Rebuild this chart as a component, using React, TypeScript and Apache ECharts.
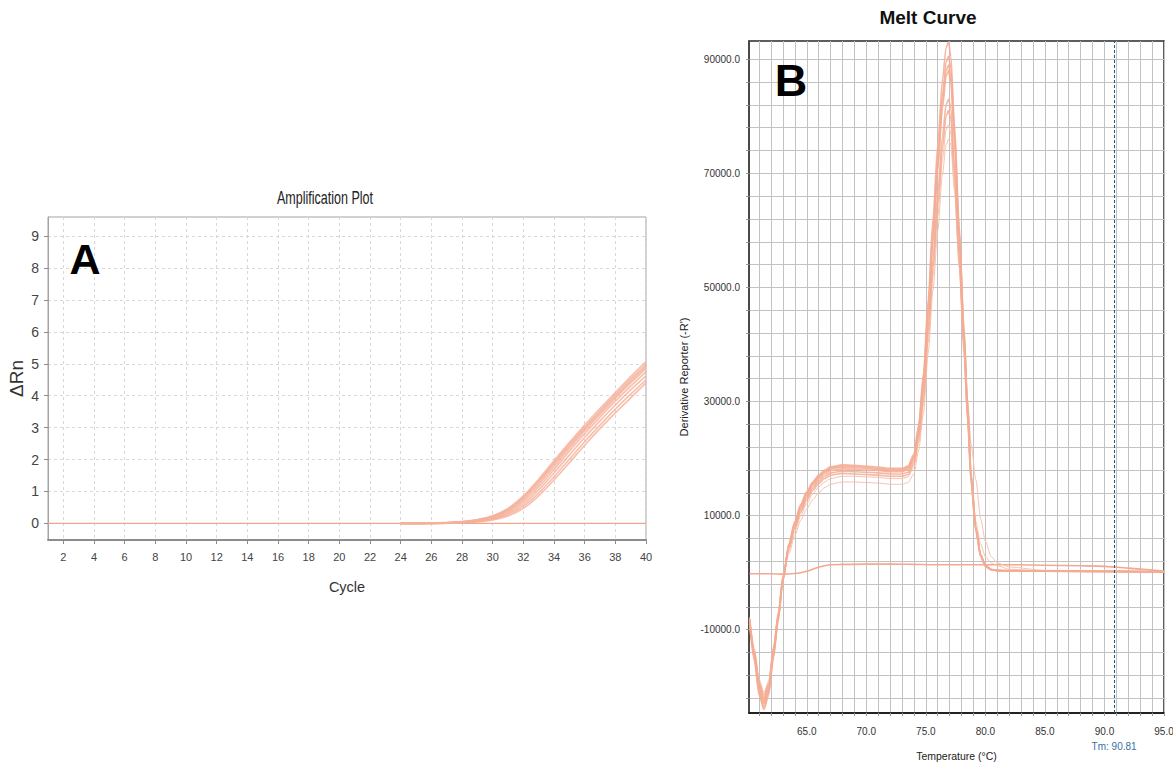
import React, { useEffect, useRef } from "react";
import * as echarts from "echarts";

// ---------- Panel A: Amplification plot ----------
const cyclesA = [1, 2, 3, 4, 5, 6, 7, 8, 9, 10, 11, 12, 13, 14, 15, 16, 17, 18, 19, 20, 21, 22, 23, 24, 25, 26, 27, 28, 29, 30, 31, 32, 33, 34, 35, 36, 37, 38, 39, 40];
const ntcAmp = [0, 0, 0, 0, 0, 0, 0, 0, 0, 0, 0, 0, 0, 0, 0, 0, 0, 0, 0, 0, 0, 0, 0, 0, 0, 0, 0, 0, 0, 0, 0, 0, 0, 0, 0, 0, 0, 0, 0, 0];
const ampCycles = [24, 25, 26, 27, 28, 29, 30, 31, 32, 33, 34, 35, 36, 37, 38, 39, 40];
const amp1 = [0, 0, 0.01, 0.03, 0.06, 0.12, 0.24, 0.47, 0.86, 1.38, 1.96, 2.53, 3.08, 3.6, 4.1, 4.6, 5.07];
const amp2 = [0, 0, 0.01, 0.02, 0.05, 0.11, 0.22, 0.44, 0.82, 1.33, 1.9, 2.47, 3.01, 3.53, 4.03, 4.52, 4.98];
const amp3 = [0, 0, 0.01, 0.02, 0.05, 0.1, 0.21, 0.42, 0.79, 1.29, 1.86, 2.42, 2.96, 3.48, 3.98, 4.46, 4.92];
const amp4 = [0, 0, 0, 0.02, 0.04, 0.09, 0.19, 0.39, 0.74, 1.22, 1.78, 2.35, 2.9, 3.42, 3.92, 4.4, 4.85];
const amp5 = [0, 0, 0, 0.02, 0.04, 0.08, 0.17, 0.35, 0.68, 1.14, 1.69, 2.26, 2.81, 3.33, 3.83, 4.3, 4.75];
const amp6 = [0, 0, 0, 0.01, 0.03, 0.07, 0.15, 0.31, 0.61, 1.05, 1.58, 2.14, 2.69, 3.21, 3.71, 4.18, 4.62];
const amp7 = [0, 0, 0, 0.01, 0.03, 0.06, 0.13, 0.27, 0.54, 0.95, 1.46, 2.01, 2.56, 3.08, 3.58, 4.05, 4.5];
const amp8 = [0, 0, 0, 0.01, 0.02, 0.05, 0.11, 0.23, 0.47, 0.86, 1.36, 1.9, 2.45, 2.97, 3.46, 3.93, 4.4];
const ampCurves = [amp1, amp2, amp3, amp4, amp5, amp6, amp7, amp8];
const ampXTicks = [2, 4, 6, 8, 10, 12, 14, 16, 18, 20, 22, 24, 26, 28, 30, 32, 34, 36, 38, 40];
const ampYTicks = [0, 1, 2, 3, 4, 5, 6, 7, 8, 9];

// ---------- Panel B: Melt curve ----------
const meltTemps = [60.2, 60.6, 61.0, 61.4, 61.8, 62.2, 62.6, 63.0, 63.5, 64.0, 64.5, 65.0, 65.5, 66.0, 66.5, 67.0, 68.0, 69.0, 70.0, 71.0, 72.0, 73.0, 73.5, 74.0, 74.4, 74.8, 75.2, 75.6, 76.0, 76.4, 76.7, 76.9, 77.1, 77.4, 77.8, 78.2, 78.5, 78.8, 79.2, 79.6, 80.0, 80.5, 81.0, 82.0, 85.0, 90.0, 95.0];
const melt1 = [-9000, -15500, -21500, -24000, -21500, -15000, -8500, -1500, 5000, 9000, 12000, 14200, 15900, 17100, 18000, 18600, 18900, 18800, 18700, 18500, 18300, 18300, 18700, 20800, 26000, 35000, 48000, 62000, 75000, 86500, 92000, 93000, 90500, 79000, 61000, 43000, 30000, 17500, 8000, 3200, 1300, 600, 400, 350, 300, 250, 150];
const melt2 = [-8800, -15000, -21000, -23500, -21000, -14600, -8200, -1300, 5000, 8800, 11800, 14000, 15700, 16900, 17800, 18400, 18700, 18600, 18500, 18300, 18100, 18100, 18500, 20500, 25500, 34000, 46500, 60500, 73000, 84000, 89500, 90500, 88500, 77500, 60000, 42500, 29500, 17000, 7800, 3100, 1200, 550, 380, 330, 280, 230, 140];
const melt3 = [-8500, -14600, -20500, -23000, -20700, -14300, -8000, -1200, 4800, 8600, 11600, 13800, 15500, 16700, 17600, 18200, 18500, 18400, 18300, 18100, 17900, 17900, 18300, 20200, 25000, 33500, 45500, 59000, 71500, 82500, 88000, 89000, 87000, 76500, 59500, 42000, 29000, 16800, 7700, 3000, 1200, 550, 380, 330, 280, 230, 140];
const melt4 = [-8300, -14200, -20000, -22500, -20300, -14000, -7800, -1000, 4700, 8400, 11300, 13500, 15200, 16400, 17300, 17900, 18200, 18100, 18000, 17900, 17700, 17700, 18100, 20000, 24800, 33000, 45000, 58000, 70500, 81500, 87000, 88000, 86000, 75500, 58500, 41500, 28500, 16500, 7600, 3000, 1150, 520, 360, 320, 270, 220, 130];
const melt5 = [-8200, -14000, -19600, -22000, -19900, -13700, -7600, -900, 4500, 8100, 11000, 13100, 14800, 16000, 16900, 17500, 17800, 17700, 17600, 17500, 17300, 17300, 17600, 19500, 24000, 31500, 43000, 55000, 66500, 76500, 82000, 83000, 81500, 71500, 56000, 40000, 27500, 16000, 7400, 2900, 1100, 500, 350, 310, 260, 210, 130];
const melt6 = [-8000, -13700, -19200, -21500, -19500, -13400, -7400, -800, 4300, 7800, 10600, 12700, 14400, 15600, 16500, 17100, 17400, 17300, 17200, 17100, 16900, 16900, 17200, 19000, 23500, 30500, 42000, 53500, 64500, 74500, 80000, 81000, 79500, 70000, 55000, 39500, 27000, 15800, 7300, 2900, 1100, 500, 350, 300, 260, 210, 120];
const melt7 = [-8600, -14600, -20400, -22800, -20600, -14300, -8000, -1200, 3800, 7200, 10000, 12100, 13800, 15000, 15900, 16500, 16900, 16900, 16800, 16700, 16500, 16500, 16800, 18500, 22800, 29500, 40500, 52000, 62500, 72500, 77500, 78500, 77000, 68000, 53500, 38500, 27000, 17000, 9000, 5000, 2800, 1700, 1200, 600, 300, 200, 120];
const melt8 = [-7800, -13300, -18700, -21000, -19000, -13000, -7000, -500, 3300, 6500, 9200, 11200, 12800, 14000, 14900, 15500, 15900, 15900, 15800, 15700, 15500, 15500, 15800, 17300, 21500, 28000, 38500, 49500, 60000, 70000, 75000, 76000, 75000, 67000, 54000, 40500, 30500, 22500, 16300, 9500, 5500, 2800, 1700, 1000, 400, 250, 150];
const meltMain = [melt1, melt2, melt3, melt4, melt5, melt6];
const meltThin = [melt7, melt8];
const ntcTemps = [60.2, 62.0, 63.0, 64.0, 64.5, 65.0, 65.5, 66.0, 66.5, 67.0, 68.0, 70.0, 72.0, 74.0, 76.0, 78.0, 80.0, 82.0, 85.0, 88.0, 90.0, 92.0, 94.0, 95.0];
const ntcMelt = [-200, -200, -250, -150, 0, 250, 600, 950, 1200, 1400, 1450, 1500, 1500, 1450, 1400, 1400, 1400, 1400, 1300, 1200, 1100, 800, 450, 300];
const meltXGrid = [61, 62, 63, 64, 65, 66, 67, 68, 69, 70, 71, 72, 73, 74, 75, 76, 77, 78, 79, 80, 81, 82, 83, 84, 85, 86, 87, 88, 89, 90, 91, 92, 93, 94, 95];
const meltXLabels = [65, 70, 75, 80, 85, 90, 95];
const meltYGrid = [-22000, -18000, -14000, -10000, -6000, -2000, 2000, 6000, 10000, 14000, 18000, 22000, 26000, 30000, 34000, 38000, 42000, 46000, 50000, 54000, 58000, 62000, 66000, 70000, 74000, 78000, 82000, 86000, 90000];
const meltYLabels = [-10000, 10000, 30000, 50000, 70000, 90000];
const tmValue = 90.81;

const SANS = "'Liberation Sans', Arial, sans-serif";

export default function App() {
  const ref = useRef<HTMLDivElement>(null);
  useEffect(() => {
    if (!ref.current) return;
    const chart = echarts.init(ref.current, undefined, { renderer: "svg" });

    const series: any[] = [];
    series.push({
      type: "line", xAxisIndex: 0, yAxisIndex: 0, symbol: "none", silent: true,
      data: cyclesA.map((c, i) => [c, ntcAmp[i]]),
      lineStyle: { color: "#f1a48e", width: 1.2 },
    });
    ampCurves.forEach((arr) => {
      series.push({
        type: "line", xAxisIndex: 0, yAxisIndex: 0, symbol: "none", silent: true, smooth: 0.3,
        data: ampCycles.map((c, i) => [c, arr[i]]),
        lineStyle: { color: "#f5b09a", width: 1.7, opacity: 0.8 },
      });
    });
    series.push({
      type: "line", xAxisIndex: 1, yAxisIndex: 1, symbol: "none", silent: true, smooth: 0.3,
      data: ntcTemps.map((t, i) => [t, ntcMelt[i]]),
      lineStyle: { color: "#f3a88f", width: 1.6 },
      markLine: {
        silent: true, symbol: ["none", "none"],
        lineStyle: { type: [3, 2], color: "#1f5b80", width: 1 },
        label: { show: true, position: "start", formatter: "Tm: 90.81", color: "#3a70a4", fontSize: 10, fontFamily: SANS, distance: 28 },
        data: [{ xAxis: tmValue }],
      },
    });
    meltThin.forEach((arr) => {
      series.push({
        type: "line", xAxisIndex: 1, yAxisIndex: 1, symbol: "none", silent: true, smooth: 0.25, smoothMonotone: "x",
        data: meltTemps.map((t, i) => [t, arr[i]]),
        lineStyle: { color: "#f6c2ae", width: 1 },
      });
    });
    meltMain.forEach((arr) => {
      series.push({
        type: "line", xAxisIndex: 1, yAxisIndex: 1, symbol: "none", silent: true, smooth: 0.25, smoothMonotone: "x",
        data: meltTemps.map((t, i) => [t, arr[i]]),
        lineStyle: { color: "#f5ac93", width: 1.6, opacity: 0.85 },
      });
    });

    chart.setOption({
      animation: false,
      backgroundColor: "#ffffff",
      grid: [
        { left: 48, top: 217, width: 598, height: 323, show: true, borderColor: "#a3a3a3", borderWidth: 1, containLabel: false, outerBoundsMode: "none" },
        { left: 749, top: 41, width: 415, height: 672, show: true, borderColor: "#2a2a2a", borderWidth: 1.5, containLabel: false, outerBoundsMode: "none" },
      ],
      xAxis: [
        {
          gridIndex: 0, type: "value", min: 1, max: 40,
          name: "Cycle", nameLocation: "middle", nameGap: 39,
          nameTextStyle: { fontFamily: SANS, fontSize: 14.5, color: "#333" },
          axisLine: { show: true, onZero: false, lineStyle: { color: "#8c8c8c", width: 2 } },
          axisTick: { show: true, customValues: ampXTicks, length: 4, lineStyle: { color: "#8c8c8c" } },
          axisLabel: { customValues: ampXTicks, color: "#444", fontSize: 11, fontFamily: SANS, margin: 11 },
          splitLine: { show: true, lineStyle: { color: "#d8d8d8", type: [3, 3], width: 1 } },
        },
        {
          gridIndex: 1, type: "value", min: 60.15, max: 95,
          name: "Temperature (°C)", nameLocation: "middle", nameGap: 37,
          nameTextStyle: { fontFamily: SANS, fontSize: 10.5, color: "#222" },
          axisLine: { show: true, onZero: false, lineStyle: { color: "#111", width: 1.5 } },
          axisTick: { show: true, customValues: meltXGrid, length: 3, lineStyle: { color: "#999" } },
          axisLabel: { customValues: meltXLabels, formatter: (v: number) => v.toFixed(1), color: "#333", fontSize: 10, fontFamily: SANS, margin: 13 },
          splitLine: { show: true, lineStyle: { color: "#c2c2c2", width: 1 } },
        },
      ],
      yAxis: [
        {
          gridIndex: 0, type: "value", min: -0.52, max: 9.6,
          name: "ΔRn", nameLocation: "middle", nameGap: 22, nameRotate: 90, nameMoveOverlap: false,
          nameTextStyle: { fontFamily: SANS, fontSize: 19, color: "#333" },
          axisLine: { show: true, onZero: false, lineStyle: { color: "#a3a3a3", width: 1 } },
          axisTick: { show: true, customValues: ampYTicks, length: 4, lineStyle: { color: "#8c8c8c" } },
          axisLabel: { customValues: ampYTicks, color: "#444", fontSize: 14, fontFamily: SANS, margin: 9 },
          splitLine: { show: true, lineStyle: { color: "#d8d8d8", type: [3, 3], width: 1 } },
        },
        {
          gridIndex: 1, type: "value", min: -24600, max: 93200,
          name: "Derivative Reporter (-R')", nameLocation: "middle", nameGap: 60, nameRotate: 90,
          nameTextStyle: { fontFamily: SANS, fontSize: 11, color: "#222" },
          axisLine: { show: true, onZero: false, lineStyle: { color: "#444", width: 1.5 } },
          axisTick: { show: true, customValues: meltYGrid, length: 3, lineStyle: { color: "#999" } },
          axisLabel: { customValues: meltYLabels, formatter: (v: number) => v.toFixed(1), color: "#333", fontSize: 10, fontFamily: SANS, margin: 9 },
          splitLine: { show: true, lineStyle: { color: "#c2c2c2", width: 1 } },
        },
      ],
      graphic: [
        { type: "text", z: 100, x: 325, y: 197, scaleX: 0.66, style: { text: "Amplification Plot", fontFamily: SANS, fontSize: 19, fill: "#222", align: "center", verticalAlign: "middle" } },
        { type: "text", z: 100, x: 85, y: 259, style: { text: "A", fontFamily: SANS, fontWeight: "bold", fontSize: 43, fill: "#000", align: "center", verticalAlign: "middle" } },
        { type: "text", z: 100, x: 928, y: 17, style: { text: "Melt Curve", fontFamily: SANS, fontWeight: "bold", fontSize: 19, fill: "#111", align: "center", verticalAlign: "middle" } },
        { type: "text", z: 100, x: 791, y: 80, style: { text: "B", fontFamily: SANS, fontWeight: "bold", fontSize: 45, fill: "#000", align: "center", verticalAlign: "middle" } },
      ],
      series,
    });
    return () => chart.dispose();
  }, []);
  return <div ref={ref} style={{ position: "absolute", left: 0, top: 0, width: 1173, height: 764 }} />;
}
